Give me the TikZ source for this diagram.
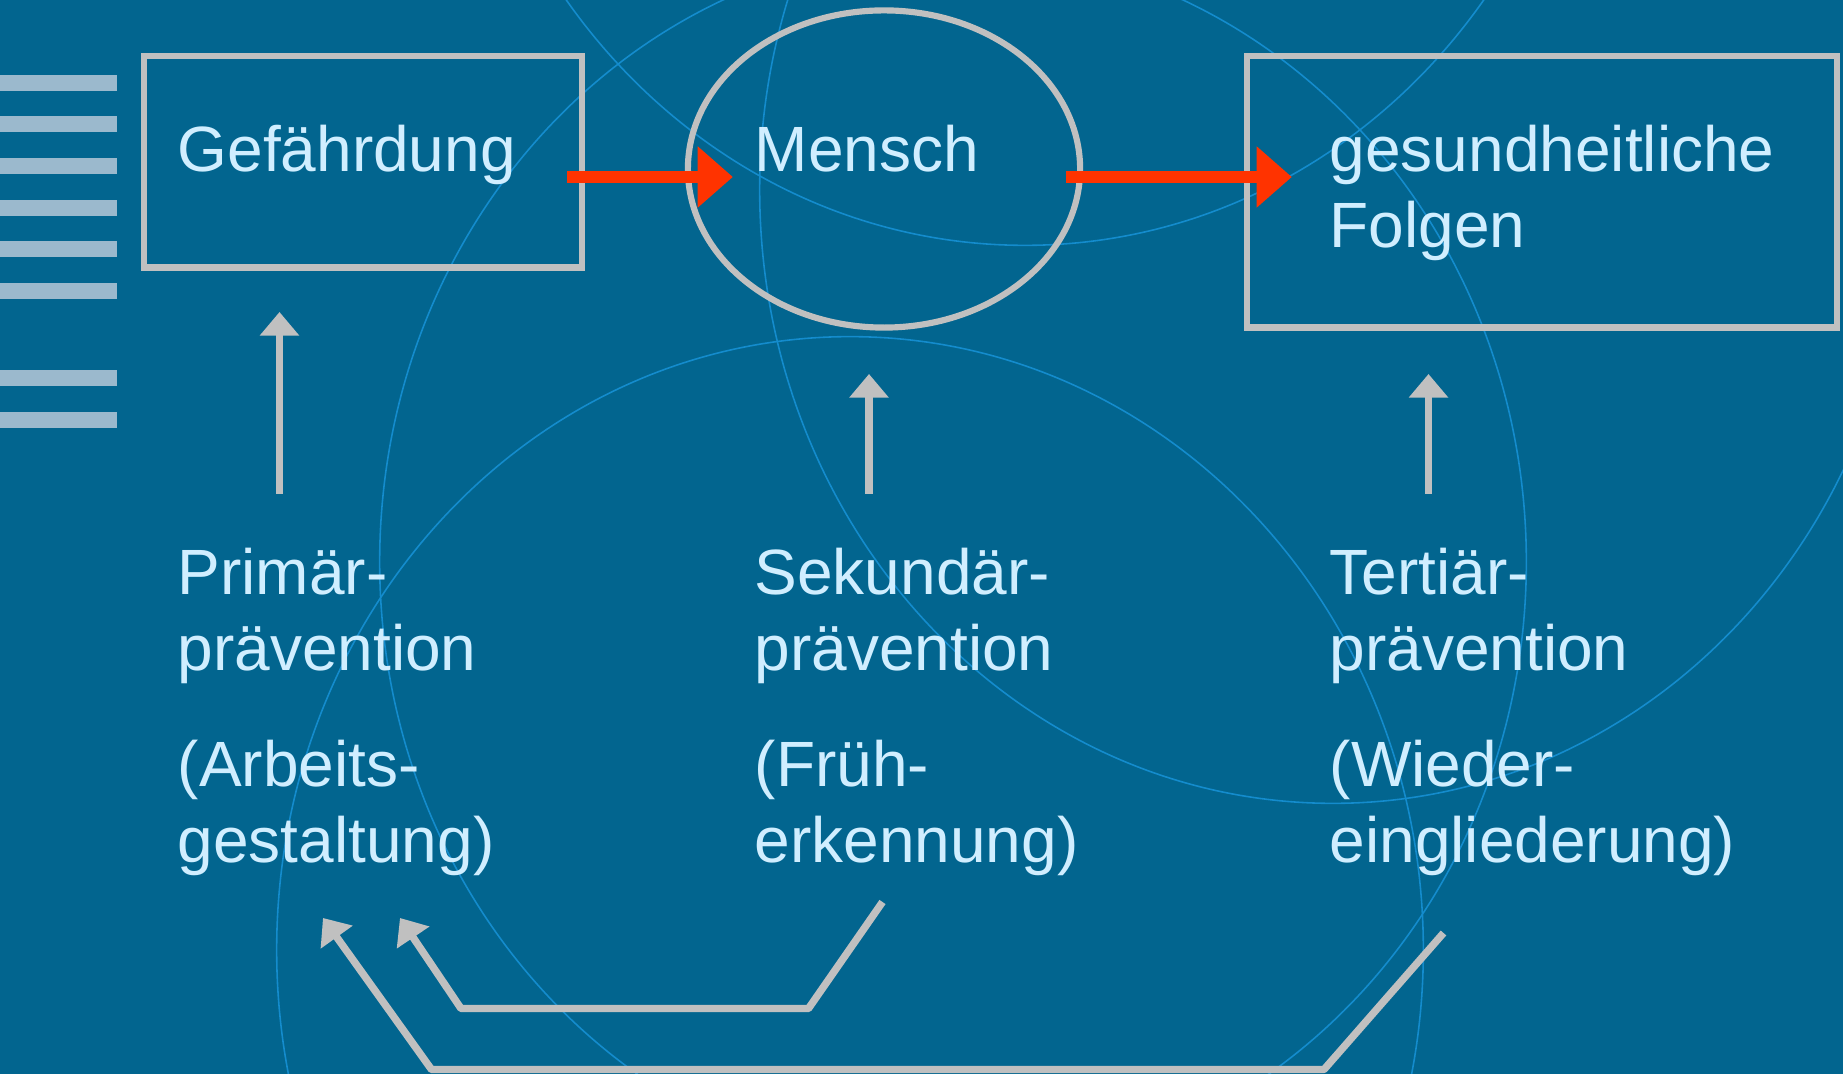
\documentclass[tikz,border=0pt]{standalone}
\usepackage{fontspec}
\setmainfont{Liberation Sans}
\usetikzlibrary{arrows.meta,calc,shapes.geometric}

\definecolor{slideblue}{RGB}{2,101,143}
\definecolor{ringblue}{RGB}{20,140,205}
\definecolor{labeltext}{RGB}{208,238,255}
\definecolor{framegray}{RGB}{192,192,192}
\definecolor{stripegray}{RGB}{155,185,205}
\definecolor{hazardred}{RGB}{255,51,0}

\newcommand{\stacklines}[2]{\begin{tabular}[t]{@{}l@{}}#1\\#2\end{tabular}}

\tikzset{
  boxframe/.style={draw=framegray, line width=1.75pt, inner sep=0pt, outer sep=0pt},
  lbl/.style={text=labeltext, anchor=base west, inner sep=0pt, font=\fontsize{18.2}{21.6}\selectfont},
  hazard/.style={draw=hazardred, line width=3.3pt, -{Triangle[length=10pt, width=16.8pt]}},
  lift/.style={draw=framegray, line width=2.1pt, -{Triangle[length=6.7pt, width=10.8pt]}},
  ring/.style={draw=ringblue, line width=0.45pt},
}

\begin{document}
\begin{tikzpicture}[x=0.01cm, y=-0.01cm] %%% one unit = one pixel of the slide, y runs downwards
      \useasboundingbox (0,0) rectangle (1843,1074);
      %%% slide background
      \fill[slideblue] (0,0) rectangle (1843,1074);
      %%% faint rings behind the scheme
      \begin{scope}
        \clip (0,0) rectangle (1843,1074);
        \foreach \cx/\cy in {1025/-368, 953/562, 850/950, 1333/190}{
          \draw[ring] (\cx,\cy) ellipse [x radius=5.73cm, y radius=6.13cm];
        }
      \end{scope}
      %%% stripes on the left edge
      \foreach \s in {82.7, 124.3, 166.1, 207.9, 249.5, 291, 378.4, 419.8}{
        \fill[stripegray] (0,\s-8) rectangle (116.5,\s+8);
      }
      %%% upper chain
      \node[boxframe, minimum width=4.38cm, minimum height=2.115cm] (gef) at (363,161.75) {};
      \node[boxframe, ellipse, minimum width=3.92cm, minimum height=3.17cm] (mensch) at (884,169) {};
      \node[boxframe, minimum width=5.9cm, minimum height=2.715cm] (folg) at (1542,191.75) {};
      \node[lbl] (geftxt) at (177,172) {Gefährdung};
      \node[lbl] (menschtxt) at (754,172) {Mensch};
      \node[lbl] (folgtxt) at (1329,172) {\stacklines{gesundheitliche}{Folgen}};
      %%% the three kinds of prevention
      \foreach \name/\px/\la/\lb/\na/\nb in {prim/177/Primär-/prävention/(Arbeits-/gestaltung),
                                             sek/754/Sekundär-/prävention/(Früh-/erkennung),
                                             tert/1329/Tertiär-/prävention/(Wieder-/eingliederung)}{
        \node[lbl] (\name title) at (\px,594.5) {\stacklines{\la}{\lb}};
        \node[lbl] (\name note) at (\px,787) {\stacklines{\na}{\nb}};
      }
      %%% arrows pointing up to the chain
      \foreach \name/\ax/\tip in {prim/279.5/312, sek/869/374, tert/1428.5/374}{
        \coordinate (\name foot) at (\ax,494);
        \coordinate (\name tip) at (\ax,\tip);
        \draw[lift] (\name foot) -- (\name tip);
      }
      %%% feedback from secondary and tertiary back to primary
      \coordinate (sekback) at (882.5,902);
      \coordinate (tertback) at (1443.5,933);
      \coordinate (innerin) at (400,918);
      \coordinate (outerin) at (323,918);
      \draw[lift, line join=bevel] (sekback) -- (808.5,1008.5) -- (461,1008.5) -- (innerin);
      \draw[lift, line join=bevel] (tertback) -- (1324,1069.5) -- (431.5,1069.5) -- (outerin);
      %%% red arrows of the chain
      \draw[hazard] ($(gef.east)+(-15,15.25)$) -- ($(mensch.west)+(45,8)$);
      \draw[hazard] ($(mensch.east)+(-14,8)$) -- ($(folg.west)+(45,-14.75)$);
    \end{tikzpicture}
\end{document}
